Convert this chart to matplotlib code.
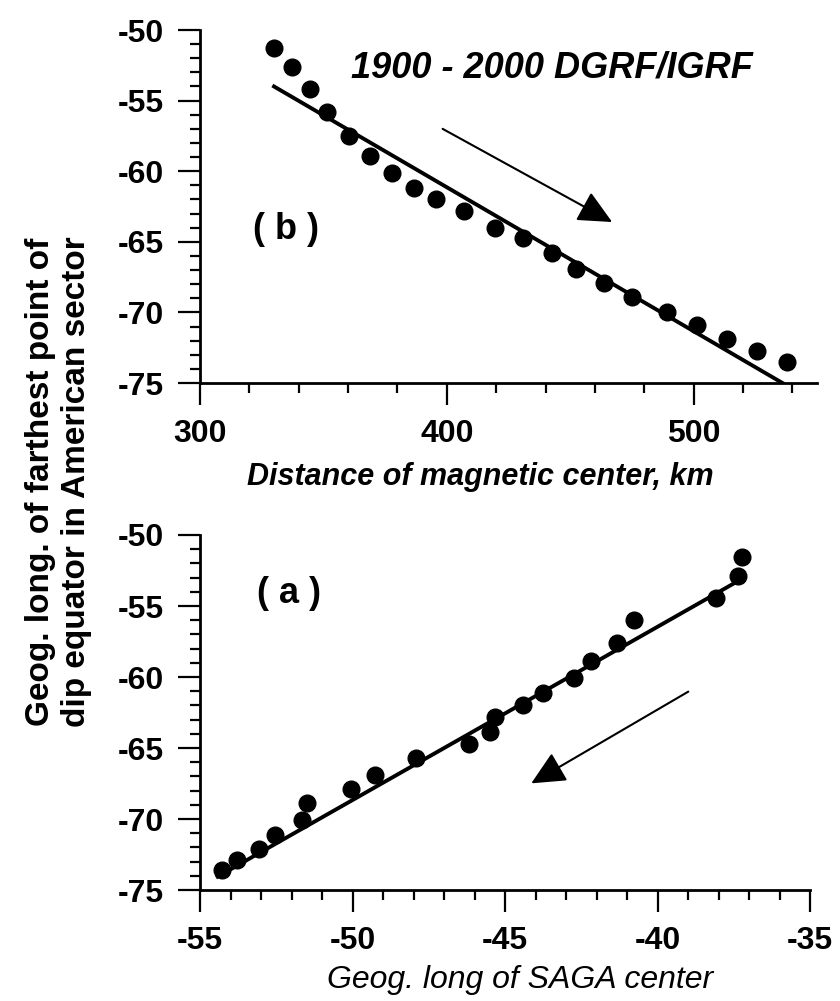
import numpy as np
import matplotlib
matplotlib.use("Agg")
from matplotlib import pyplot as plt
from matplotlib.ticker import MultipleLocator, FormatStrFormatter

plt.rcParams['font.family'] = ['Liberation Sans', 'DejaVu Sans']
plt.rcParams['axes.unicode_minus'] = False

### data ###

# (b) distance of magnetic center vs longitude of dip equator point
dist_b = [330, 337.1, 344.5, 351.5, 360.2, 369, 377.9, 386.7, 395.6, 407, 419.5,
          431, 442.5, 452.2, 463.7, 475.2, 489.4, 501.2, 513.5, 525.5, 538]
lon_b = [-51.3, -52.6, -54.2, -55.8, -57.5, -58.9, -60.1, -61.2, -62.0, -62.8, -64.0,
         -64.7, -65.8, -66.9, -67.9, -68.9, -70.0, -70.9, -71.9, -72.7, -73.5]
fit_b_x = [330, 536]
fit_b_y = [-54.0, -75.0]

# (a) SAGA center longitude vs longitude of dip equator point
saga_a = [-54.28, -53.78, -53.06, -52.55, -51.65, -51.5, -50.04, -49.27, -47.91, -46.18, -45.5,
          -45.33, -44.42, -43.75, -42.74, -42.19, -41.33, -40.78, -38.09, -37.37, -37.23]
lon_a = [-73.6, -72.9, -72.1, -71.1, -70.1, -68.85, -67.9, -66.9, -65.7, -64.7, -63.9,
         -62.8, -62.0, -61.15, -60.1, -58.9, -57.6, -56.0, -54.46, -52.9, -51.57]
fit_a_x = [-54.42, -37.3]
fit_a_y = [-74.06, -53.17]

tick_fs = 23
W, H = 840, 1001

fig = plt.figure(figsize=(W / 100, H / 100), dpi=100)
ax_b = fig.add_axes([200 / W, 1 - 383 / H, 617 / W, 353 / H])
ax_a = fig.add_axes([200 / W, 1 - 890 / H, 610 / W, 355 / H])


def style_axes(ax):
    for s in ['top', 'right']:
        ax.spines[s].set_visible(False)
    for s in ['left', 'bottom']:
        ax.spines[s].set_linewidth(2)
    ax.tick_params(which='major', direction='out', length=16, width=1.6, pad=10,
                   labelsize=tick_fs)
    ax.tick_params(which='minor', direction='out', length=7, width=1.6)
    for lab in ax.get_xticklabels() + ax.get_yticklabels():
        lab.set_fontweight('bold')
    ax.yaxis.set_major_locator(MultipleLocator(5))
    ax.yaxis.set_minor_locator(MultipleLocator(1))
    ax.yaxis.set_major_formatter(FormatStrFormatter('%d'))
    ax.xaxis.set_major_formatter(FormatStrFormatter('%d'))
    ax.set_ylim(-75, -50)


arrow_props = dict(arrowstyle='-|>,head_length=1.05,head_width=0.5',
                   mutation_scale=20, color='k', lw=1.5, shrinkA=0, shrinkB=0)

### (b) ###
ax_b.plot(dist_b, lon_b, 'o', color='k', ms=12, clip_on=False)
ax_b.plot(fit_b_x, fit_b_y, '-', color='k', lw=2.8)
ax_b.set_xlim(300, 550)
ax_b.xaxis.set_major_locator(MultipleLocator(100))
ax_b.xaxis.set_minor_locator(MultipleLocator(20))
style_axes(ax_b)
ax_b.set_xlabel("Distance of magnetic center, km", fontsize=22, fontweight='bold',
                style='italic')
ax_b.xaxis.set_label_coords(0.455, -0.225)
ax_b.text(361, -52.7, "1900 - 2000 DGRF/IGRF", fontsize=26, fontweight='bold',
          style='italic', ha='left', va='center')
ax_b.text(334.8, -64.1, "( b )", fontsize=26, fontweight='bold', ha='center', va='center')
ax_b.annotate("", xy=(467, -63.6), xytext=(398.3, -57.0), arrowprops=arrow_props)

### (a) ###
ax_a.plot(saga_a, lon_a, 'o', color='k', ms=12, clip_on=False)
ax_a.plot(fit_a_x, fit_a_y, '-', color='k', lw=2.8)
ax_a.set_xlim(-55, -35)
ax_a.xaxis.set_major_locator(MultipleLocator(5))
ax_a.xaxis.set_minor_locator(MultipleLocator(1))
style_axes(ax_a)
ax_a.set_xlabel("Geog. long of SAGA center", fontsize=23, style='italic')
ax_a.xaxis.set_label_coords(0.525, -0.21)
ax_a.text(-52.08, -54.15, "( a )", fontsize=26, fontweight='bold', ha='center', va='center')
ax_a.annotate("", xy=(-44.14, -67.49), xytext=(-38.99, -61.03), arrowprops=arrow_props)

# shared y label
fig.text(0.07, 1 - 482 / H, "Geog. long. of farthest point of\ndip equator in American sector",
         rotation=90, fontsize=24, fontweight='bold', ha='center', va='center',
         multialignment='center', linespacing=1.2)

fig.savefig("out.png", dpi=100)
